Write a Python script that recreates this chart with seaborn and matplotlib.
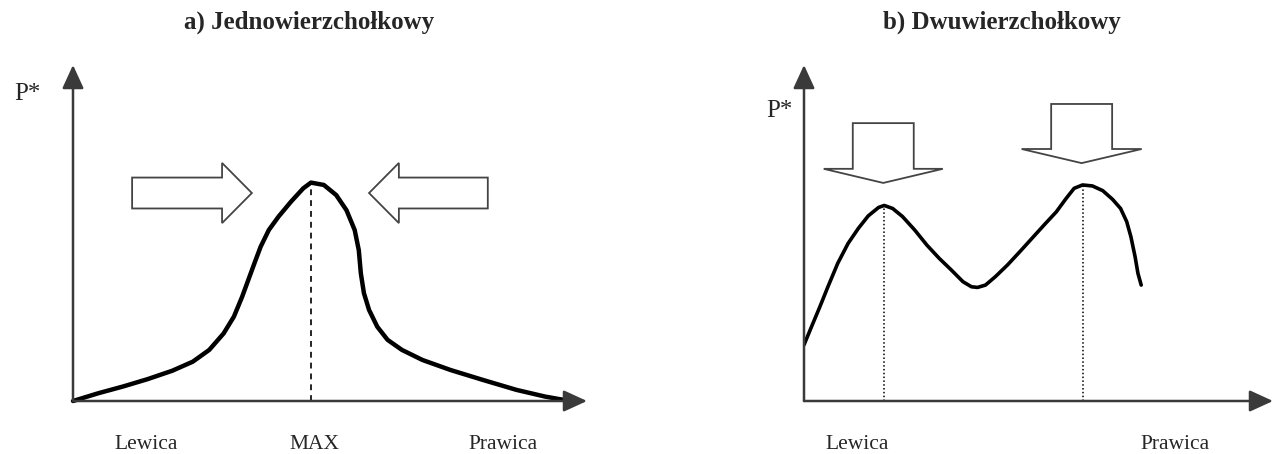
import matplotlib
matplotlib.use("Agg")
import matplotlib.pyplot as plt
from matplotlib.patches import FancyArrow
import seaborn as sns

# ── Data (positions along the left-right axis 0-100, P* 0-100) ──────────────
uni_x = [0, 4.9, 9.7, 14.5, 19.3, 23.3, 26.5, 29.3, 31.3, 32.9, 34.1, 35.3,
         36.5, 38.1, 40.0, 42.4, 44.8, 46.3, 48.8, 51.2, 53.2, 54.8, 55.6,
         56.0, 56.6, 57.6, 59.2, 61.2, 64.0, 68.0, 73.5, 79.9, 86.3, 91.9, 96.7]
uni_y = [0, 2.3, 4.3, 6.5, 9.0, 11.7, 15.2, 20.1, 25.1, 31.0, 36.0, 41.0,
         45.9, 50.9, 54.9, 59.3, 63.3, 65.0, 64.3, 61.3, 56.8, 50.9, 44.9,
         38.0, 32.1, 27.1, 22.1, 18.2, 15.2, 12.2, 9.2, 6.2, 3.3, 1.3, 0]
uni_peak = 46.3

bi_x = [0, 1.6, 3.4, 5.1, 7.2, 9.4, 11.6, 13.7, 15.9, 17.1, 18.9, 21.0,
        23.6, 26.2, 28.8, 31.4, 33.9, 35.7, 37.0, 38.7, 40.8, 43.4, 46.0,
        48.6, 51.2, 53.8, 55.9, 57.6, 59.4, 61.5, 63.7, 65.8, 67.5, 68.8,
        69.7, 70.6, 71.2, 71.9]
bi_y = [16.7, 22.1, 28.1, 34.0, 41.0, 46.9, 51.4, 55.1, 57.6, 58.2, 57.3,
        54.9, 50.9, 46.4, 42.5, 39.0, 35.5, 34.0, 33.8, 34.5, 37.0, 40.5,
        44.4, 48.4, 52.4, 56.3, 60.3, 63.3, 64.3, 64.0, 62.6, 60.0, 57.3,
        53.4, 48.9, 42.9, 38.0, 34.5]
bi_peaks = [17.1, 59.4]

titles = ["a) Jednowierzchołkowy", "b) Dwuwierzchołkowy"]
uni_labels = ["Lewica", "MAX", "Prawica"]
uni_label_x = [14.2, 46.9, 83.7]
bi_labels = ["Lewica", "Prawica"]
bi_label_x = [11.3, 79.2]

sns.set_theme(style="white")
plt.rcParams["font.family"] = ["Liberation Serif", "DejaVu Serif"]

W, H = 1274, 454
fig = plt.figure(figsize=(W / 100, H / 100), dpi=100)
ax1 = fig.add_axes([73 / W, 53 / H, 514 / W, 336 / H])
ax2 = fig.add_axes([804 / W, 53 / H, 469 / W, 336 / H])


def setup(ax):
    ax.set_xlim(0, 100)
    ax.set_ylim(0, 100)
    ax.axis("off")
    for xy in [(100, 0), (0, 100)]:
        ax.annotate("", xy=xy, xytext=(0, 0),
                    arrowprops=dict(arrowstyle="-|>,head_length=1.2,head_width=0.55",
                                    color="#3a3a3a", lw=1.8, shrinkA=0, shrinkB=0),
                    annotation_clip=False)


def block_arrow(ax, x, y, dx, dy, width, head_width, head_length):
    ax.add_patch(FancyArrow(x, y, dx, dy, width=width, head_width=head_width,
                            head_length=head_length, length_includes_head=True,
                            facecolor="white", edgecolor="#444444", lw=1.3,
                            clip_on=False, zorder=3))


# ── Panel a ────────────────────────────────────────────────────────────────
setup(ax1)
sns.lineplot(x=uni_x, y=uni_y, ax=ax1, color="black", lw=3.2, legend=False)
ax1.lines[-1].set_solid_capstyle("round")
ax1.lines[-1].set_solid_joinstyle("round")
ax1.lines[-1].set_clip_on(False)
ax1.plot([uni_peak, uni_peak], [0, max(uni_y)], color="black", lw=1.2,
         ls=(0, (3.5, 3)))
block_arrow(ax1, 11.5, 61.9, 23.3, 0, 9.2, 17.9, 5.8)
block_arrow(ax1, 80.7, 61.9, -23.1, 0, 9.2, 17.9, 5.8)
for lab, lx in zip(uni_labels, uni_label_x):
    ax1.text(lx, -12.8, lab, ha="center", va="center", fontsize=15.5)
ax1.text(-8.9, 91.5, "P*", ha="center", va="center", fontsize=18)

# ── Panel b ────────────────────────────────────────────────────────────────
setup(ax2)
sns.lineplot(x=bi_x, y=bi_y, ax=ax2, color="black", lw=2.6, legend=False)
ax2.lines[-1].set_solid_capstyle("round")
ax2.lines[-1].set_solid_joinstyle("round")
for px in bi_peaks:
    py = bi_y[bi_x.index(px)]
    ax2.plot([px, px], [0, py], color="black", lw=1.1, ls=(0, (1, 1.5)))
block_arrow(ax2, 16.9, 82.7, 0, -17.8, 13.0, 25.4, 4.2)
block_arrow(ax2, 59.2, 88.4, 0, -17.6, 13.0, 25.6, 4.2)
for lab, lx in zip(bi_labels, bi_label_x):
    ax2.text(lx, -12.8, lab, ha="center", va="center", fontsize=15.5)
ax2.text(-5.2, 86.3, "P*", ha="center", va="center", fontsize=18)

fig.text(309 / W, 1 - 22 / H, titles[0], ha="center", va="center",
         fontsize=18, fontweight="bold")
fig.text(1002 / W, 1 - 22 / H, titles[1], ha="center", va="center",
         fontsize=18, fontweight="bold")

fig.savefig("out.png", dpi=100, facecolor="white")
print("Saved: out.png")
